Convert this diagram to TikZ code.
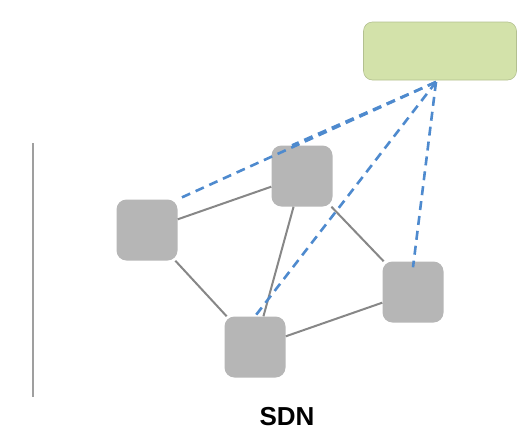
\documentclass[tikz,border=0pt]{standalone}
\usepackage{fontspec}
\setsansfont{Liberation Sans}
\usepackage{xcolor}
\definecolor{switchgray}{RGB}{182,182,182}
\definecolor{linkgray}{RGB}{135,135,135}
\definecolor{ctrlgreen}{RGB}{211,226,170}
\definecolor{ctrlblue}{RGB}{78,138,206}

\tikzset{
	switchbox/.style={rectangle,
		rounded corners=10pt,
		fill=switchgray,
		minimum width=61pt,
		minimum height=61pt,
		inner sep=0pt},
	link/.style={draw=linkgray, line width=2pt},
	ctrllink/.style={draw=ctrlblue, line width=2.6pt,
		dash pattern=on 9pt off 6pt}
}

\begin{document}
\begin{tikzpicture}[x=1pt,y=-1pt]
	\useasboundingbox (0,0) rectangle (518,429);

	% controller
	\node[rectangle,
	rounded corners=9pt,
	fill=ctrlgreen,
	draw=ctrlgreen!85!black,
	line width=0.6pt,
	minimum width=153pt,
	minimum height=58pt] (ctrl) at (440,51) {};
	\coordinate (hub) at (436,82);

	% switches
	\node[switchbox] (swA) at (147,230) {};
	\node[switchbox] (swB) at (302,176) {};
	\node[switchbox] (swC) at (255,347) {};
	\node[switchbox] (swD) at (413,292) {};

	% physical links
	\draw[link] (swA) -- (swB);
	\draw[link] (swA) -- (swC);
	\draw[link] (swB) -- (swC);
	\draw[link] (swB) -- (swD);
	\draw[link] (swC) -- (swD);

	% control channels
	\draw[ctrllink] (hub) -- (swA.north east);
	\draw[ctrllink] (hub) -- ([xshift=-10pt]swB.north);
	\draw[ctrllink] (hub) -- (swC.north);
	\draw[ctrllink] (hub) -- ([yshift=-6pt]swD.north);

	% separator
	\draw[draw=linkgray!80, line width=2pt] (33,143) -- (33,397);

	\node[anchor=base, font=\sffamily\bfseries\fontsize{26}{30}\selectfont] (title) at (287,425) {SDN};
\end{tikzpicture}
\end{document}
